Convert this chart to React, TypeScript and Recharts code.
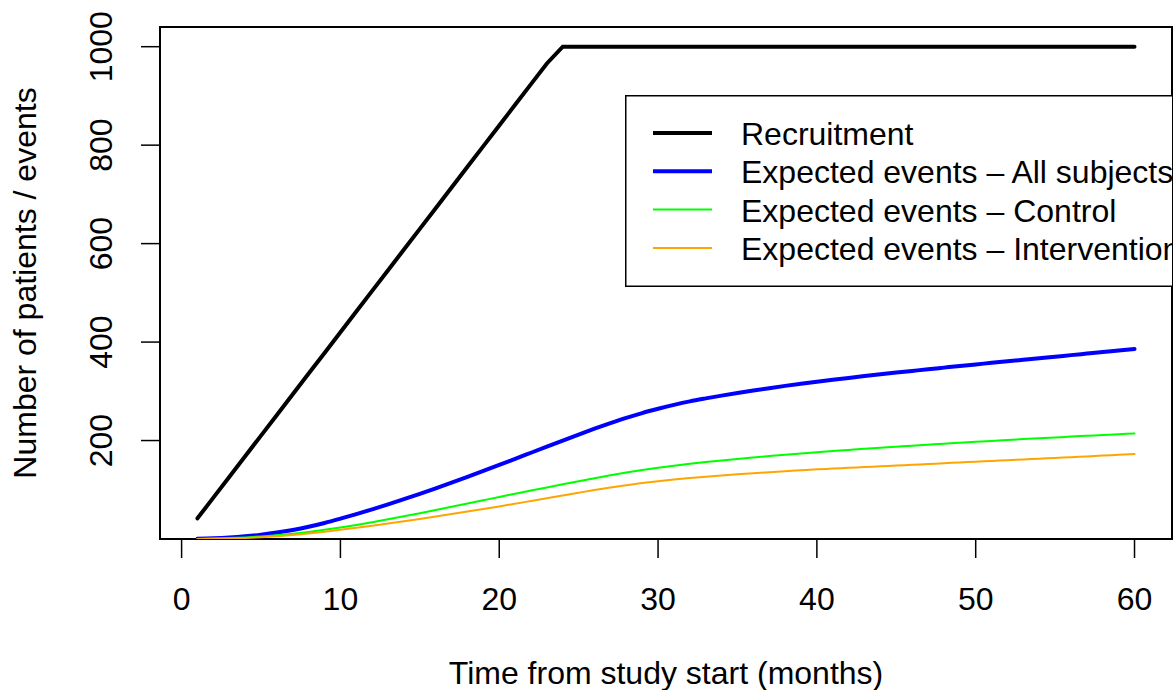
import { LineChart, Line, XAxis, YAxis, ReferenceArea, Legend } from "recharts";

const FONT = "'Liberation Sans', Arial, sans-serif";

const MONTHS = [
  1, 2, 3, 4, 5, 6, 7, 8, 9, 10, 11, 12, 13, 14, 15, 16, 17, 18, 19, 20,
  21, 22, 23, 24, 25, 26, 27, 28, 29, 30, 31, 32, 33, 34, 35, 36, 37, 38, 39, 40,
  41, 42, 43, 44, 45, 46, 47, 48, 49, 50, 51, 52, 53, 54, 55, 56, 57, 58, 59, 60,
];

const RECRUITMENT = [
  42, 84, 126, 168, 210, 252, 294, 336, 378, 420, 462, 504, 546, 588, 630, 672, 714, 756, 798, 840,
  882, 924, 966, 1000, 1000, 1000, 1000, 1000, 1000, 1000, 1000, 1000, 1000, 1000, 1000, 1000, 1000, 1000, 1000, 1000,
  1000, 1000, 1000, 1000, 1000, 1000, 1000, 1000, 1000, 1000, 1000, 1000, 1000, 1000, 1000, 1000, 1000, 1000, 1000, 1000,
];

const EVENTS_ALL = [
  0.3, 1.3, 3.0, 5.5, 8.8, 13.0, 18.3, 24.8, 32.5, 41.3,
  50.6, 60.3, 70.4, 80.9, 91.8, 103.0, 114.5, 126.3, 138.3, 150.5,
  162.8, 175.2, 187.6, 200.0, 212.2, 224.0, 235.3, 246.0, 255.8, 264.5,
  272.5, 279.6, 285.6, 291.2, 296.5, 301.6, 306.4, 311.0, 315.4, 319.5,
  323.4, 327.2, 330.9, 334.5, 338.0, 341.4, 344.8, 348.1, 351.4, 354.6,
  357.8, 361.0, 364.1, 367.2, 370.3, 373.5, 376.6, 379.7, 382.8, 385.9,
];

const EVENTS_CONTROL = [
  0.2, 0.8, 1.8, 3.3, 5.3, 7.8, 10.8, 14.4, 18.6, 23.4,
  28.6, 34.2, 40.1, 46.2, 52.5, 58.9, 65.4, 72.0, 78.7, 85.4,
  91.9, 98.4, 104.8, 111.1, 117.3, 123.4, 129.3, 134.9, 140.1, 144.8,
  149.0, 152.8, 156.3, 159.6, 162.7, 165.6, 168.4, 171.1, 173.7, 176.2,
  178.6, 180.9, 183.2, 185.4, 187.5, 189.6, 191.6, 193.6, 195.5, 197.4,
  199.3, 201.1, 202.9, 204.6, 206.3, 208.0, 209.6, 211.2, 212.8, 214.4,
];

const EVENTS_INTERVENTION = [
  0.1, 0.4, 1.1, 2.2, 3.7, 5.7, 8.2, 11.2, 14.7, 18.7,
  22.7, 26.9, 31.3, 35.9, 40.7, 45.6, 50.6, 55.7, 60.9, 66.2,
  71.7, 77.3, 82.9, 88.5, 94.0, 99.4, 104.6, 109.4, 113.7, 117.5,
  120.9, 123.9, 126.6, 129.1, 131.4, 133.6, 135.7, 137.7, 139.6, 141.5,
  143.0, 144.6, 146.1, 147.7, 149.2, 150.8, 152.3, 153.9, 155.4, 157.0,
  158.5, 160.1, 161.6, 163.2, 164.7, 166.3, 167.8, 169.4, 170.9, 172.5,
];

const X_TICKS = [0, 10, 20, 30, 40, 50, 60];
const Y_TICKS = [200, 400, 600, 800, 1000];
const X_DOMAIN = [-1.36, 62.36];
const Y_DOMAIN = [0, 1040];

const SERIES = [
  { key: "recruitment", name: "Recruitment", color: "#000000", width: 4, curve: "linear" },
  { key: "all", name: "Expected events \u2013 All subjects", color: "#0000ff", width: 4, curve: "monotone" },
  { key: "control", name: "Expected events \u2013 Control", color: "#00ff00", width: 2, curve: "monotone" },
  { key: "intervention", name: "Expected events \u2013 Intervention", color: "#ffa500", width: 2, curve: "monotone" },
];

const data = MONTHS.map((m, i) => ({
  month: m,
  recruitment: RECRUITMENT[i],
  all: EVENTS_ALL[i],
  control: EVENTS_CONTROL[i],
  intervention: EVENTS_INTERVENTION[i],
}));

const YTick = ({ x, y, payload }: any) => (
  <text
    x={x}
    y={y}
    transform={`rotate(-90 ${x} ${y})`}
    textAnchor="middle"
    fontSize={32}
    fontFamily={FONT}
    fill="#000"
  >
    {payload.value}
  </text>
);

// legend box runs past the plot edge and gets clipped there, like the original
const LegendBox = () => (
  <svg width={547} height={193}>
    <rect x={0.75} y={0.75} width={600} height={190.5} fill="#fff" stroke="#000" strokeWidth={1.5} />
    {SERIES.map((s, i) => (
      <g key={s.key}>
        <line x1={28} x2={87} y1={38 + i * 38.3} y2={38 + i * 38.3} stroke={s.color} strokeWidth={s.width} />
        <text x={116} y={50 + i * 38.3} fontSize={32} fontFamily={FONT} fill="#000">
          {s.name}
        </text>
      </g>
    ))}
  </svg>
);

export default function App() {
  return (
    <div style={{ position: "absolute", left: 0, top: 0, background: "#fff" }}>
      <LineChart width={1174} height={690} data={data} margin={{ top: 27, right: 2, bottom: 0, left: 0 }}>
        <XAxis
          dataKey="month"
          type="number"
          domain={X_DOMAIN}
          ticks={X_TICKS}
          allowDataOverflow
          height={151}
          tickSize={19}
          tickMargin={29}
          axisLine={false}
          tickLine={{ stroke: "#000", strokeWidth: 1.5 }}
          tick={{ fill: "#000", fontSize: 32, fontFamily: FONT }}
          label={{
            content: ({ viewBox }: any) => (
              <text
                x={viewBox.x + viewBox.width / 2}
                y={viewBox.y + 145}
                textAnchor="middle"
                fontSize={32}
                fontFamily={FONT}
                fill="#000"
              >
                Time from study start (months)
              </text>
            ),
          }}
        />
        <YAxis
          type="number"
          domain={Y_DOMAIN}
          ticks={Y_TICKS}
          allowDataOverflow
          width={160}
          tickSize={19}
          tickMargin={29}
          axisLine={false}
          tickLine={{ stroke: "#000", strokeWidth: 1.5 }}
          tick={<YTick />}
          label={{
            content: ({ viewBox }: any) => {
              const cx = viewBox.x + 36;
              const cy = viewBox.y + viewBox.height / 2;
              return (
                <text
                  x={cx}
                  y={cy}
                  transform={`rotate(-90 ${cx} ${cy})`}
                  textAnchor="middle"
                  fontSize={32}
                  fontFamily={FONT}
                  fill="#000"
                >
                  Number of patients / events
                </text>
              );
            },
          }}
        />
        <ReferenceArea
          x1={X_DOMAIN[0]}
          x2={X_DOMAIN[1]}
          y1={Y_DOMAIN[0]}
          y2={Y_DOMAIN[1]}
          fill="none"
          stroke="#000"
          strokeWidth={2}
          ifOverflow="visible"
        />
        {SERIES.map((s) => (
          <Line
            key={s.key}
            dataKey={s.key}
            name={s.name}
            type={s.curve as any}
            stroke={s.color}
            strokeWidth={s.width}
            strokeLinecap="round"
            dot={false}
            activeDot={false}
            isAnimationActive={false}
          />
        ))}
        <Legend
          layout="vertical"
          align="center"
          verticalAlign="middle"
          content={<LegendBox />}
          wrapperStyle={{ position: "absolute", left: 625, top: 95, width: 547, height: 193 }}
        />
      </LineChart>
    </div>
  );
}
